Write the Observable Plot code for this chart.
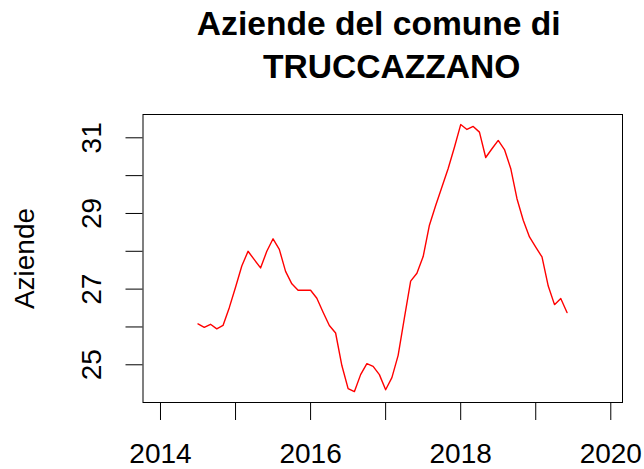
<!DOCTYPE html>
<html>
<head>
<meta charset="utf-8">
<script src="https://cdn.jsdelivr.net/npm/d3@7"></script>
<script src="https://cdn.jsdelivr.net/npm/@observablehq/plot@0.6"></script>
<style>
  html, body { margin: 0; padding: 0; background: #fff; }
  svg { display: block; }
</style>
</head>
<body>
<div id="chart"></div>
<script>
// Monthly series, starting July 2014
const startYear = 2014;
const startMonth = 7;
const aziende = [26.08, 25.99, 26.07, 25.95, 26.04, 26.51, 27.05, 27.61, 28.0, 27.78,
  27.56, 28.0, 28.33, 28.05, 27.47, 27.14, 26.97, 26.97, 26.97, 26.76,
  26.39, 26.04, 25.84, 24.98, 24.37, 24.29, 24.74, 25.03, 24.96, 24.74,
  24.34, 24.66, 25.25, 26.24, 27.21, 27.42, 27.86, 28.69, 29.21, 29.70,
  30.19, 30.75, 31.35, 31.22, 31.30, 31.15, 30.48, 30.71, 30.93, 30.69,
  30.19, 29.39, 28.82, 28.38, 28.11, 27.85, 27.08, 26.59, 26.75, 26.38];
const xTicks = [2014, 2015, 2016, 2017, 2018, 2019, 2020];
const xLabels = [2014, 2016, 2018, 2020];
const yTicks = [25, 26, 27, 28, 29, 30, 31];
const yLabels = [25, 27, 29, 31];
const titleLines = ["Aziende del comune di", "TRUCCAZZANO"];
const yTitle = "Aziende";

const data = aziende.map((v, i) => ({t: startYear + (startMonth - 1 + i) / 12, v}));

const font = "'Liberation Sans', Arial, Helvetica, sans-serif";

const chart = Plot.plot({
  width: 644,
  height: 469,
  marginLeft: 142.5,
  marginRight: 22,
  marginTop: 114,
  marginBottom: 67,
  style: {fontFamily: font, background: "#fff", color: "#000"},
  x: {domain: [2013.767, 2020.156]},
  y: {domain: [24.003, 31.616]},
  marks: [
    Plot.axisX({ticks: xTicks, tickSize: 18, tickPadding: 23, fontSize: 28,
      tickFormat: d => xLabels.includes(d) ? String(d) : "", stroke: "#000", strokeWidth: 1, label: null}),
    Plot.axisY({ticks: yTicks, tickSize: 17, tickFormat: () => "", stroke: "#000", strokeWidth: 1, label: null}),
    Plot.text(yLabels, {y: d => d, text: d => String(d), frameAnchor: "left", dx: -42.5,
      rotate: -90, textAnchor: "middle", lineAnchor: "bottom", fontSize: 28, fill: "#000"}),
    Plot.text([yTitle], {frameAnchor: "left", dx: -109.5, rotate: -90, textAnchor: "middle",
      lineAnchor: "bottom", fontSize: 28, fill: "#000"}),
    Plot.text([titleLines[0]], {frameAnchor: "top", dx: -4, dy: -80, lineAnchor: "bottom",
      textAnchor: "middle", fontSize: 33.6, fontWeight: "bold", fill: "#000"}),
    Plot.text([titleLines[1]], {frameAnchor: "top", dx: 9, dy: -37, lineAnchor: "bottom",
      textAnchor: "middle", fontSize: 33.6, fontWeight: "bold", fill: "#000"}),
    Plot.frame({stroke: "#000", strokeWidth: 1}),
    Plot.line(data, {x: "t", y: "v", stroke: "red", strokeWidth: 1.4})
  ]
});
document.getElementById("chart").appendChild(chart);
</script>
</body>
</html>
